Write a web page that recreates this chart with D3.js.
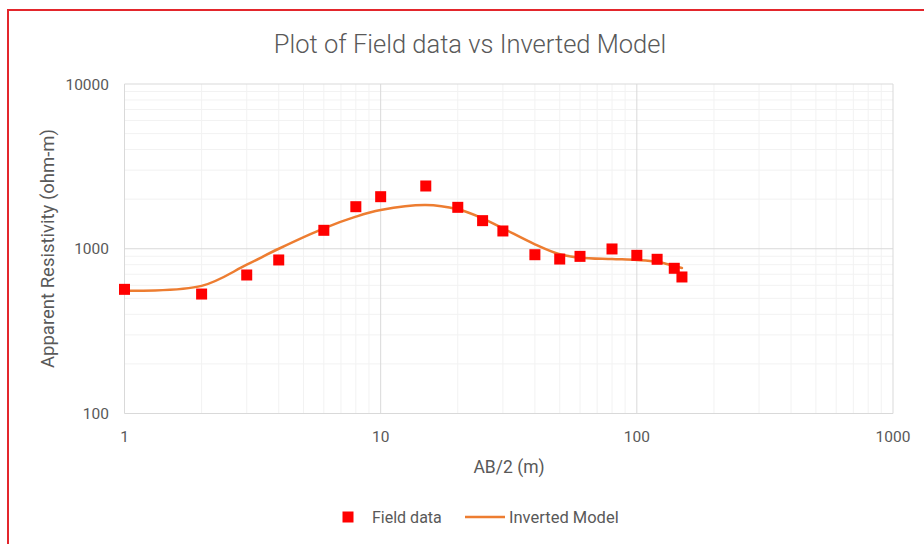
<!DOCTYPE html>
<html>
<head>
<meta charset="utf-8">
<script src="https://cdn.jsdelivr.net/npm/d3@7"></script>
<style>
body { margin:0; background:#fff; }
text { font-family: Roboto, "Open Sans", sans-serif; fill:#595959; }
</style>
</head>
<body>
<svg id="chart"></svg>
<script>
// field measurements
var fieldAB = [1, 2, 3, 4, 6, 8, 10, 15, 20, 25, 30, 40, 50, 60, 80, 100, 120, 140, 150]
var fieldRho = [567, 531, 693, 855, 1294, 1800, 2070, 2404, 1784, 1481, 1282, 920, 866, 899, 997, 912, 863, 761, 674]

// inverted model curve
var modelAB = [1, 2, 3, 4, 6, 8, 10, 15, 20, 25, 30, 40, 50, 60, 80, 100, 120, 140, 150]
var modelRho = [556, 595, 800, 1000, 1330, 1566, 1718, 1844, 1735, 1529, 1330, 1064, 925, 883, 866, 855, 834, 786, 765]

var xTicks = [1, 10, 100, 1000]
var yTicks = [100, 1000, 10000]

var screen = {width:924, height:544}
var plot = {left:124.5, right:893, top:84, bottom:413.5}

var svg = d3.select("#chart")
    .attr("width", screen.width)
    .attr("height", screen.height)

// red frame round the chart
svg.append("rect")
    .attr("x", 8)
    .attr("y", 10)
    .attr("width", 940)
    .attr("height", 560)
    .attr("fill", "none")
    .attr("stroke", "#e3262c")
    .attr("stroke-width", 2)

var xScale = d3.scaleLog()
    .domain([1, 1000])
    .range([plot.left, plot.right])
var yScale = d3.scaleLog()
    .domain([100, 10000])
    .range([plot.bottom, plot.top])

var minorValues = function(lo, hi)
{
    var out = []
    for (var d = lo; d < hi; d *= 10)
        for (var k = 2; k < 10; k++)
            out.push(d * k)
    return out
}

// minor grid
svg.append("g").selectAll("line")
    .data(minorValues(1, 1000))
    .enter().append("line")
    .attr("x1", function(d){return xScale(d)})
    .attr("x2", function(d){return xScale(d)})
    .attr("y1", plot.top)
    .attr("y2", plot.bottom)
    .attr("stroke", "#f2f2f2")
svg.append("g").selectAll("line")
    .data(minorValues(100, 10000))
    .enter().append("line")
    .attr("y1", function(d){return yScale(d)})
    .attr("y2", function(d){return yScale(d)})
    .attr("x1", plot.left)
    .attr("x2", plot.right)
    .attr("stroke", "#f2f2f2")

// major grid
svg.append("g").selectAll("line")
    .data(xTicks)
    .enter().append("line")
    .attr("x1", function(d){return xScale(d)})
    .attr("x2", function(d){return xScale(d)})
    .attr("y1", plot.top)
    .attr("y2", plot.bottom)
    .attr("stroke", "#d9d9d9")
svg.append("g").selectAll("line")
    .data(yTicks)
    .enter().append("line")
    .attr("y1", function(d){return yScale(d)})
    .attr("y2", function(d){return yScale(d)})
    .attr("x1", plot.left)
    .attr("x2", plot.right)
    .attr("stroke", "#d9d9d9")

// tick labels
svg.append("g").selectAll("text")
    .data(xTicks)
    .enter().append("text")
    .attr("x", function(d){return xScale(d)})
    .attr("y", 441.5)
    .attr("text-anchor", "middle")
    .style("font-size", "15.5px")
    .text(function(d){return d})
svg.append("g").selectAll("text")
    .data(yTicks)
    .enter().append("text")
    .attr("x", 109)
    .attr("y", function(d){return yScale(d) + 5.5})
    .attr("text-anchor", "end")
    .style("font-size", "15.5px")
    .text(function(d){return d})

// titles
svg.append("text")
    .attr("x", 470)
    .attr("y", 53)
    .attr("text-anchor", "middle")
    .style("font-size", "25.5px")
    .style("font-weight", 300)
    .text("Plot of Field data vs Inverted Model")
svg.append("text")
    .attr("x", 509)
    .attr("y", 472.5)
    .attr("text-anchor", "middle")
    .style("font-size", "17.5px")
    .text("AB/2 (m)")
svg.append("text")
    .attr("transform", "translate(53.5,248.5) rotate(-90)")
    .attr("text-anchor", "middle")
    .style("font-size", "18.5px")
    .text("Apparent Resistivity (ohm-m)")

// model line
var model = modelAB.map(function(x, i){return {x:x, y:modelRho[i]}})
var line = d3.line()
    .x(function(p){return xScale(p.x)})
    .y(function(p){return yScale(p.y)})
    .curve(d3.curveCatmullRom.alpha(0.5))
svg.append("path")
    .datum(model)
    .attr("d", line)
    .attr("fill", "none")
    .attr("stroke", "#ed7d31")
    .attr("stroke-width", 2.5)
    .attr("stroke-linecap", "round")

// field points
var field = fieldAB.map(function(x, i){return {x:x, y:fieldRho[i]}})
var size = 11
svg.append("g").selectAll("rect")
    .data(field)
    .enter().append("rect")
    .attr("x", function(p){return xScale(p.x) - size/2})
    .attr("y", function(p){return yScale(p.y) - size/2})
    .attr("width", size)
    .attr("height", size)
    .attr("fill", "#ff0000")

// legend
var legend = svg.append("g")
legend.append("rect")
    .attr("x", 348 - size/2)
    .attr("y", 517 - size/2)
    .attr("width", size)
    .attr("height", size)
    .attr("fill", "#ff0000")
legend.append("text")
    .attr("x", 372)
    .attr("y", 523)
    .style("font-size", "16px")
    .text("Field data")
legend.append("line")
    .attr("x1", 465)
    .attr("x2", 505)
    .attr("y1", 517)
    .attr("y2", 517)
    .attr("stroke", "#ed7d31")
    .attr("stroke-width", 2.5)
legend.append("text")
    .attr("x", 509)
    .attr("y", 523)
    .style("font-size", "16.5px")
    .text("Inverted Model")
</script>
</body>
</html>
